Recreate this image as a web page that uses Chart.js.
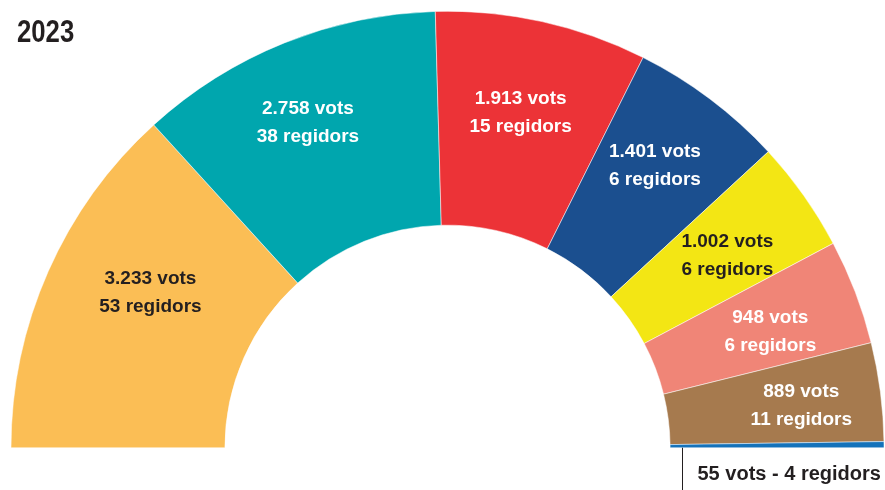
<!DOCTYPE html>
<html>
<head>
<meta charset="utf-8">
<script src="https://cdn.jsdelivr.net/npm/chart.js@4"></script>
<style>
	html, body { margin: 0; padding: 0; background: #fff; }
	#wrap { position: relative; width: 885px; height: 490px; }
</style>
</head>
<body>
<div id="wrap"><canvas id="hemicicle"></canvas></div>
<script>
const titol = '2023';
const vots = [3233, 2758, 1913, 1401, 1002, 948, 889, 55];
const regidors = [53, 38, 15, 6, 6, 6, 11, 4];
const colors = ['#FBBE55', '#00A6AE', '#EC3337', '#1B4F8F', '#F3E614', '#F08577', '#A67A4E', '#1472BA'];
const textColors = ['#231F20', '#fff', '#fff', '#fff', '#231F20', '#fff', '#fff', '#231F20'];

function punts(n) {
	return String(n).replace(/\B(?=(\d{3})+(?!\d))/g, '.');
}

// petits ajustos a mà de les etiquetes, com a l'original
const ajust = [[20, -15], [-10, -3], [-2, 3], [-1, -5], [-3, 8], [-1, 8], [10, 2]];

const etiquetes = {
	id: 'etiquetes',
	afterDatasetsDraw: function(chart) {
		const ctx = chart.ctx;
		const arcs = chart.getDatasetMeta(0).data;
		ctx.save();
		ctx.textAlign = 'center';
		ctx.textBaseline = 'middle';
		ctx.font = 'bold 19px "Liberation Sans", Arial, sans-serif';
		arcs.forEach(function(arc, i) {
			if (i === arcs.length - 1) {
				return;
			}
			const p = arc.getProps(['x', 'y', 'startAngle', 'endAngle', 'innerRadius', 'outerRadius'], true);
			const mid = (p.startAngle + p.endAngle) / 2;
			const r = p.innerRadius + 0.58 * (p.outerRadius - p.innerRadius);
			const x = p.x + Math.cos(mid) * r + ajust[i][0];
			const y = p.y + Math.sin(mid) * r + ajust[i][1];
			ctx.fillStyle = textColors[i];
			ctx.fillText(punts(vots[i]) + ' vots', x, y - 14);
			ctx.fillText(regidors[i] + ' regidors', x, y + 14);
		});

		// petit partit: etiqueta a sota amb línia
		const last = arcs[arcs.length - 1].getProps(['x', 'y', 'innerRadius'], true);
		const lx = Math.round(last.x + last.innerRadius + 12) + 0.5;
		ctx.strokeStyle = '#231F20';
		ctx.lineWidth = 1;
		ctx.beginPath();
		ctx.moveTo(lx, last.y);
		ctx.lineTo(lx, 490);
		ctx.stroke();
		ctx.textAlign = 'left';
		ctx.fillStyle = textColors[arcs.length - 1];
		ctx.font = 'bold 20px "Liberation Sans", Arial, sans-serif';
		const n = vots.length - 1;
		ctx.fillText(punts(vots[n]) + ' vots - ' + regidors[n] + ' regidors', lx + 15, last.y + 27);

		// títol, estret
		ctx.textBaseline = 'alphabetic';
		ctx.font = 'bold 31px "Liberation Sans", Arial, sans-serif';
		ctx.translate(17, 42);
		ctx.scale(0.83, 1);
		ctx.fillText(titol, 0, 0);
		ctx.restore();
	}
};

new Chart(document.getElementById('hemicicle').getContext('2d'), {
	type: 'doughnut',
	data: {
		labels: vots.map(function(v, i) { return 'Partit ' + (i + 1); }),
		datasets: [{
			data: vots,
			backgroundColor: colors,
			borderColor: '#fff',
			borderWidth: 0.5
		}]
	},
	options: {
		responsive: true,
		maintainAspectRatio: false,
		animation: false,
		rotation: -90,
		circumference: 180,
		cutout: '51%',
		layout: { padding: { left: 10, right: 0, top: 11, bottom: 42 } },
		plugins: {
			legend: { display: false },
			tooltip: { enabled: false }
		}
	},
	plugins: [etiquetes]
});
</script>
</body>
</html>
